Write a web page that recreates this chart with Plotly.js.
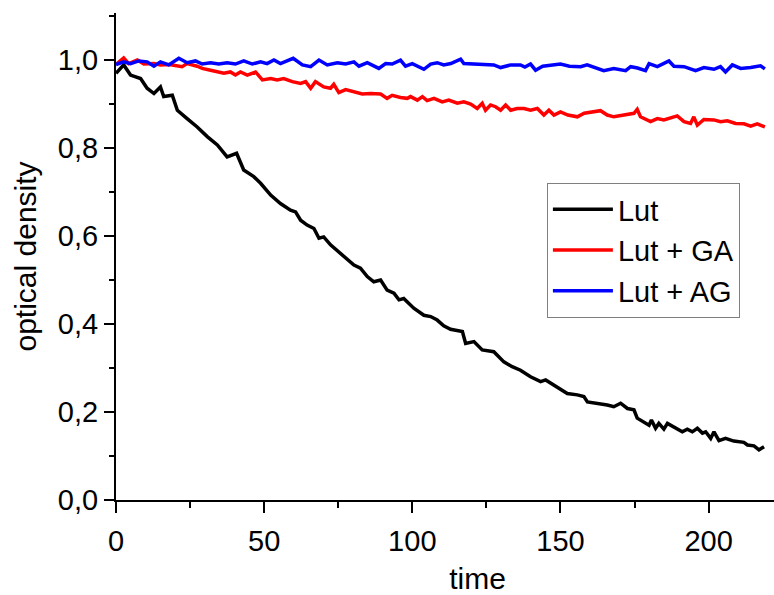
<!DOCTYPE html>
<html>
<head>
<meta charset="utf-8">
<script src="https://cdn.plot.ly/plotly-3.0.1.min.js"></script>
<style>
html,body{margin:0;padding:0;background:#fff;overflow:hidden;width:774px;height:595px;}
#chart{width:839px;height:595px;}
</style>
</head>
<body>
<div id="chart"></div>
<script>
// Series names
const seriesNames = ["Lut", "Lut + GA", "Lut + AG"];

// Lut (black)
const timeLut = [0,2.6,4.9,8.3,10.5,12.8,15,16.1,19,20.7,24,27.4,30.8,34.2,37.5,40.7,43.1,46.5,48.8,52.2,55.5,58.9,60.6,62.3,64.5,66.8,68.5,70.1,72.4,75.8,78,80.3,82.5,84.8,87,89.3,91.5,93.8,95.5,97.1,100.5,103.9,106.2,108.4,110.6,112.9,116.9,118,120.8,123.6,127.5,130.9,133.7,136.5,139.9,143.3,145,148.4,152.3,155.7,157.9,159.1,162.4,165.8,168,170.3,172.6,174.8,175.9,178.2,179.9,180.7,182.1,183.2,184.9,186.1,188.3,191.1,192.8,194.5,196.2,197.9,199,200.7,201.8,203.5,205.7,208.5,211.9,213.1,215.3,217,218.7];
const odLut = [0.97,0.989,0.966,0.958,0.936,0.924,0.939,0.917,0.92,0.886,0.867,0.848,0.826,0.807,0.78,0.788,0.75,0.735,0.72,0.693,0.674,0.659,0.655,0.636,0.625,0.617,0.595,0.598,0.58,0.561,0.549,0.534,0.527,0.508,0.496,0.5,0.477,0.47,0.455,0.458,0.436,0.42,0.417,0.409,0.396,0.388,0.383,0.356,0.36,0.341,0.337,0.314,0.303,0.295,0.28,0.269,0.273,0.258,0.242,0.239,0.235,0.223,0.22,0.216,0.212,0.22,0.208,0.205,0.186,0.178,0.17,0.182,0.163,0.174,0.161,0.174,0.165,0.155,0.161,0.155,0.163,0.152,0.155,0.14,0.155,0.135,0.14,0.134,0.131,0.125,0.123,0.114,0.121];

// Lut + GA (red)
const timeGA = [0,2.6,4.3,7.2,9.4,12.8,15,18,22.3,24,27.4,29.1,31.9,34.2,36.4,38.6,40.3,42,44.3,47.1,49.4,52.2,54.4,56.6,59.5,62.3,64,65.7,67.3,70.1,72.4,73.5,75.2,77.5,80.3,83.1,85.9,89.3,91.5,93.2,96,98.3,99.4,101.7,103.4,105,107.3,110.1,112.3,115.2,117.4,119.7,121.9,123.6,124.7,126.4,128.1,129.8,131.5,133.2,135.4,137.7,139.9,142.2,144.4,146.1,147.8,150,152.5,155.7,158,160.2,163.5,165.8,168,171.4,174.8,175.9,177,180.4,182.7,184.9,187,189.4,191.7,193.9,195,196.2,198.4,201.8,204,206.3,209.1,211.9,214.2,216.4,219];
const odGA = [0.99,1.005,0.992,1.0,0.991,0.992,0.989,0.99,0.985,0.992,0.986,0.981,0.977,0.973,0.97,0.973,0.966,0.973,0.966,0.973,0.955,0.958,0.955,0.958,0.951,0.947,0.951,0.936,0.951,0.939,0.936,0.945,0.926,0.933,0.928,0.923,0.924,0.923,0.913,0.92,0.915,0.913,0.917,0.909,0.917,0.908,0.913,0.905,0.909,0.902,0.905,0.9,0.89,0.902,0.886,0.898,0.894,0.886,0.898,0.886,0.89,0.89,0.886,0.89,0.875,0.886,0.875,0.882,0.875,0.871,0.879,0.882,0.885,0.875,0.871,0.875,0.879,0.888,0.871,0.86,0.867,0.864,0.868,0.873,0.86,0.856,0.871,0.852,0.865,0.864,0.86,0.862,0.856,0.855,0.85,0.855,0.848];

// Lut + AG (blue)
const timeAG = [0,2.6,4.9,7.7,10.5,12.8,15,17.8,21.2,24,26.8,29.1,31.9,34.7,37.5,40.3,43.1,46,48.8,51,53.3,55.5,59.8,62.9,65.7,68.5,71.3,74.7,77.5,80.3,82,84.8,88.7,91,93.2,96,97.7,100,103.9,106.2,108.4,110.6,113,115.2,116.3,117.4,120.8,124.2,127.5,129.8,133.2,136.5,138,139.9,141.6,144,146.7,150,153,156.8,159,164.6,168,172,173.7,176,178.7,179.9,182.7,186.6,188.3,191.7,195.6,198.4,201.8,204,205.7,208,210.8,214.2,217.5,219];
const odAG = [0.99,0.996,0.992,0.998,0.996,0.986,0.996,0.989,1.004,0.994,0.998,0.991,0.994,0.991,0.994,0.991,0.998,0.991,0.996,0.992,1.0,0.992,1.004,0.989,0.985,1.0,0.989,0.994,0.991,0.996,0.986,0.994,0.981,0.992,0.991,1.0,0.986,0.992,0.979,0.991,0.994,0.989,0.992,0.998,1.002,0.992,0.991,0.989,0.989,0.983,0.989,0.989,0.984,0.991,0.977,0.986,0.989,0.991,0.986,0.985,0.989,0.976,0.981,0.976,0.985,0.982,0.976,0.992,0.985,0.998,0.986,0.985,0.976,0.983,0.979,0.985,0.973,0.989,0.981,0.983,0.987,0.98];

const xTickVals = [0, 50, 100, 150, 200];
const xTickText = ["0", "50", "100", "150", "200"];
const yTickVals = [0, 0.2, 0.4, 0.6, 0.8, 1.0];

const FONT = "Liberation Sans, Arial, Helvetica, sans-serif";

const traces = [
  {x: timeLut, y: odLut, name: seriesNames[0], mode: "lines", line: {color: "#000000", width: 3.5}},
  {x: timeGA, y: odGA, name: seriesNames[1], mode: "lines", line: {color: "#ff0000", width: 3.5}},
  {x: timeAG, y: odAG, name: seriesNames[2], mode: "lines", line: {color: "#0000ff", width: 3.5}}
];

// The original figure is cropped on the right: its frame continues past the picture edge.
const xRange = [0, 244];

const layout = {
  width: 839, height: 595,
  margin: {l: 116, r: 0, t: 13, b: 95, pad: 0},
  paper_bgcolor: "#ffffff", plot_bgcolor: "#ffffff",
  separators: ",.",
  font: {family: FONT, size: 29, color: "#000"},
  showlegend: true,
  legend: {
    x: 0.596, y: 0.651, xanchor: "left", yanchor: "top",
    bgcolor: "#ffffff", bordercolor: "#808080", borderwidth: 1,
    font: {family: FONT, size: 29, color: "#000"},
    itemwidth: 60
  },
  xaxis: {
    range: xRange, showgrid: false, zeroline: false,
    showline: true, linecolor: "#000", linewidth: 2,
    ticks: "outside", ticklen: 11, tickwidth: 2, tickcolor: "#000",
    tickvals: xTickVals, ticktext: xTickText, ticklabelstandoff: 3,
    minor: {ticks: "outside", dtick: 25, ticklen: 6, tickwidth: 2, tickcolor: "#000", showgrid: false},
    tickfont: {family: FONT, size: 29, color: "#000"},
    title: {text: "time", font: {family: FONT, size: 30, color: "#000"}, standoff: 14}
  },
  xaxis2: {
    overlaying: "x", side: "top", range: xRange,
    showgrid: false, zeroline: false, showticklabels: false,
    showline: true, linecolor: "#000", linewidth: 2,
    ticks: "inside", ticklen: 10, tickwidth: 2, tickcolor: "#000",
    tickvals: xTickVals,
    minor: {ticks: "inside", dtick: 25, ticklen: 6, tickwidth: 2, tickcolor: "#000", showgrid: false}
  },
  yaxis: {
    range: [0, 1.107], showgrid: false, zeroline: false,
    showline: true, linecolor: "#000", linewidth: 2,
    ticks: "outside", ticklen: 10, tickwidth: 2, tickcolor: "#000",
    tickvals: yTickVals, tickformat: ".1f",
    minor: {ticks: "outside", dtick: 0.1, ticklen: 5, tickwidth: 2, tickcolor: "#000", showgrid: false},
    tickfont: {family: FONT, size: 29, color: "#000"},
    title: {text: "optical density", font: {family: FONT, size: 30, color: "#000"}, standoff: 12}
  }
};

Plotly.newPlot("chart", traces, layout, {displayModeBar: false, staticPlot: true});
</script>
</body>
</html>
